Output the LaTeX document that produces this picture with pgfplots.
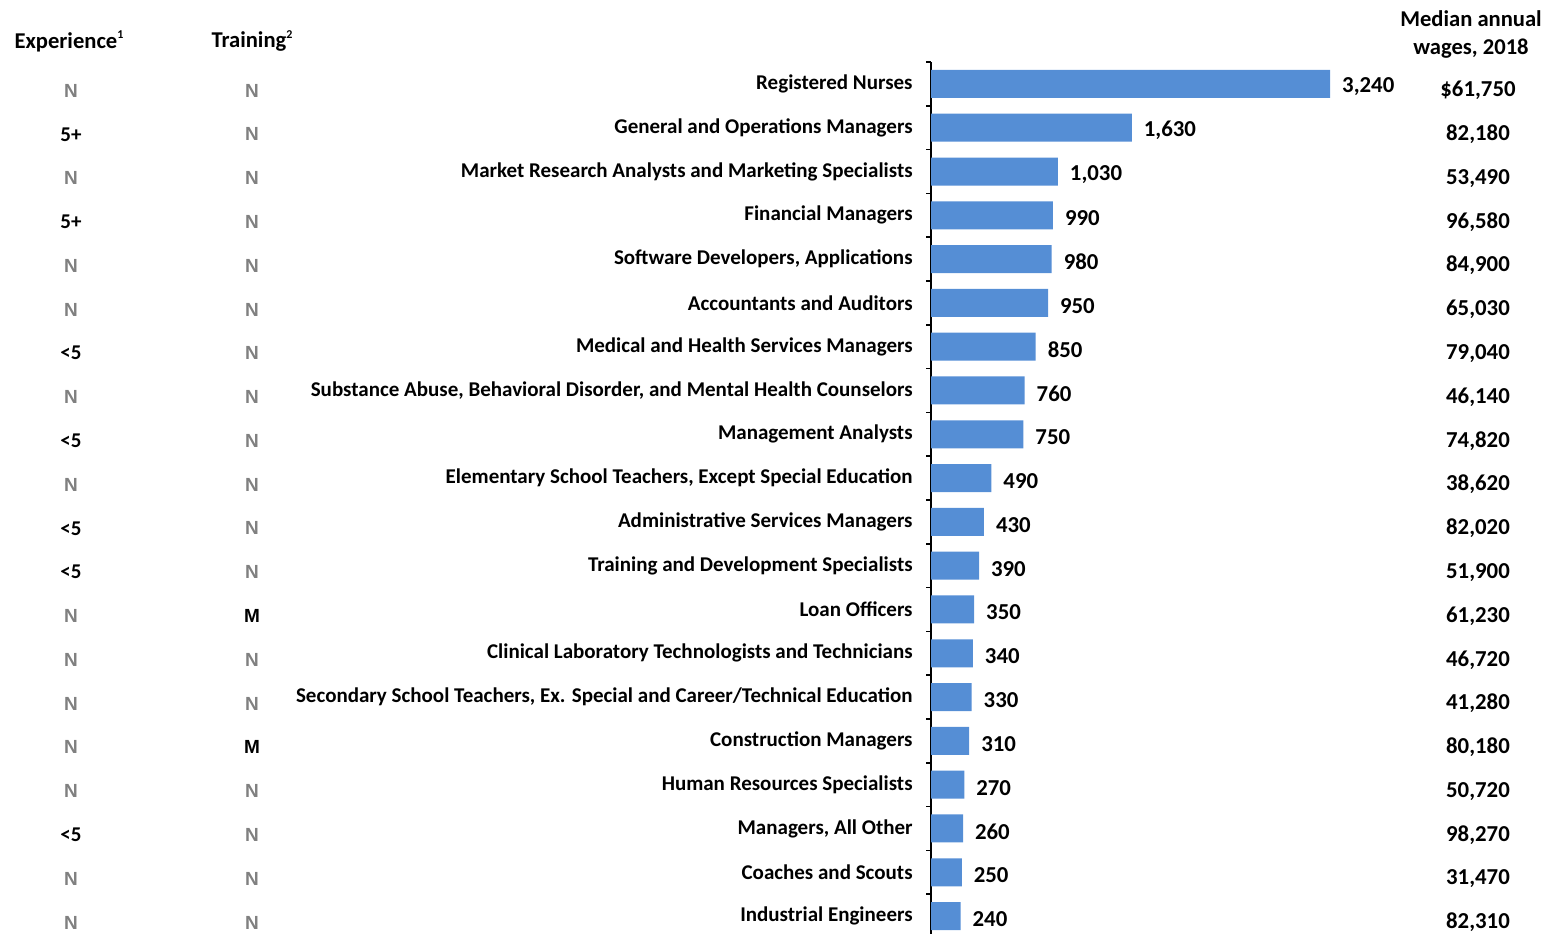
\documentclass[border=0pt]{standalone}
\usepackage{pgfplots}
\pgfplotsset{compat=1.18}
\usepackage{pgfplotstable}
\usepackage{fontspec}
\setmainfont{Carlito}
\newfontfamily\arialf{Liberation Sans}
\definecolor{barblue}{RGB}{85,142,213}
\definecolor{ngray}{RGB}{128,128,128}

% idx, openings (thousands), median wage, experience, training
\pgfplotstableread{
idx val wage exp train
0 3240 \$61,750 N N
1 1630 82,180 5+ N
2 1030 53,490 N N
3 990 96,580 5+ N
4 980 84,900 N N
5 950 65,030 N N
6 850 79,040 <5 N
7 760 46,140 N N
8 750 74,820 <5 N
9 490 38,620 N N
10 430 82,020 <5 N
11 390 51,900 <5 N
12 350 61,230 N M
13 340 46,720 N N
14 330 41,280 N N
15 310 80,180 N M
16 270 50,720 N N
17 260 98,270 <5 N
18 250 31,470 N N
19 240 82,310 N N
}\jobs

\def\strN{N}
\def\strM{M}
\newcommand\flagcell{\edef\tmp{\pgfplotspointmeta}%
  \ifx\tmp\strN\textcolor{ngray}{\arialf\bfseries\fontsize{9.5}{10}\selectfont N}%
  \else\ifx\tmp\strM{\arialf\bfseries\fontsize{9.5}{10}\selectfont M}%
  \else\pgfplotspointmeta\fi\fi}
\newcommand\lblfont{\bfseries\fontsize{10.5}{12}\selectfont}
\newcommand\numfont{\bfseries\fontsize{11.4}{13}\selectfont}
\newcommand\hdfont{\bfseries\fontsize{11.3}{14}\selectfont}

\begin{document}
\begin{tikzpicture}[font=\lblfont]
\useasboundingbox (0,0) rectangle (777.5pt,467pt);
\begin{axis}[
  at={(465.5pt,436pt)},anchor=north west,
  scale only axis,width=312pt,height=436pt,
  xmin=0,xmax=5065,ymin=-0.5,ymax=19.41,y dir=reverse,
  axis x line=none,axis y line*=left,
  y axis line style={line width=0.8pt},
  ytick={0,...,19},major tick length=0pt,
  minor ytick={-0.5,0.5,...,18.5},minor tick length=2.5pt,
  tick align=outside,minor tick style={line width=0.8pt,black},
  yticklabels={Registered Nurses,General and Operations Managers,
    Market Research Analysts and Marketing Specialists,Financial Managers,
    {Software Developers, Applications},Accountants and Auditors,
    Medical and Health Services Managers,
    {Substance Abuse, Behavioral Disorder, and Mental Health Counselors},
    Management Analysts,{Elementary School Teachers, Except Special Education},
    Administrative Services Managers,Training and Development Specialists,
    Loan Officers,Clinical Laboratory Technologists and Technicians,
    {Secondary School Teachers, Ex. Special and Career/Technical Education},
    Construction Managers,Human Resources Specialists,{Managers, All Other},
    Coaches and Scouts,Industrial Engineers},
  yticklabel style={font=\lblfont,anchor=east,inner sep=0pt,xshift=-9pt},
  clip=false,
  /pgf/number format/.cd,1000 sep={,},assume math mode=true,
]
\addplot[xbar,bar width=14pt,fill=barblue,draw=none,
  point meta=explicit,nodes near coords,
  nodes near coords style={font=\numfont,anchor=west,xshift=2.5pt,yshift=-1.5pt}]
  table[x=val,y=idx,meta=val]{\jobs};
\addplot[only marks,mark=none,point meta=explicit symbolic,
  nodes near coords={\pgfplotspointmeta},
  nodes near coords style={font=\numfont,anchor=center}]
  table[x expr=4440,y expr=\thisrow{idx}+0.15,meta=wage]{\jobs};
\addplot[only marks,mark=none,point meta=explicit symbolic,
  nodes near coords={\flagcell},
  nodes near coords style={font=\lblfont,anchor=center}]
  table[x expr=-6981,y expr=\thisrow{idx}+0.15,meta=exp]{\jobs};
\addplot[only marks,mark=none,point meta=explicit symbolic,
  nodes near coords={\flagcell},
  nodes near coords style={font=\lblfont,anchor=center}]
  table[x expr=-5511,y expr=\thisrow{idx}+0.15,meta=train]{\jobs};
\end{axis}
\node[font=\hdfont] at (34.5pt,446.5pt) {Experience\raisebox{0.9ex}{\fontsize{6}{6}\selectfont 1}};
\node[font=\hdfont] at (126pt,446.5pt) {Training\raisebox{0.9ex}{\fontsize{6}{6}\selectfont 2}};
\node[font=\hdfont,align=center] at (735.5pt,450pt) {Median annual\\wages, 2018};
\end{tikzpicture}
\end{document}
